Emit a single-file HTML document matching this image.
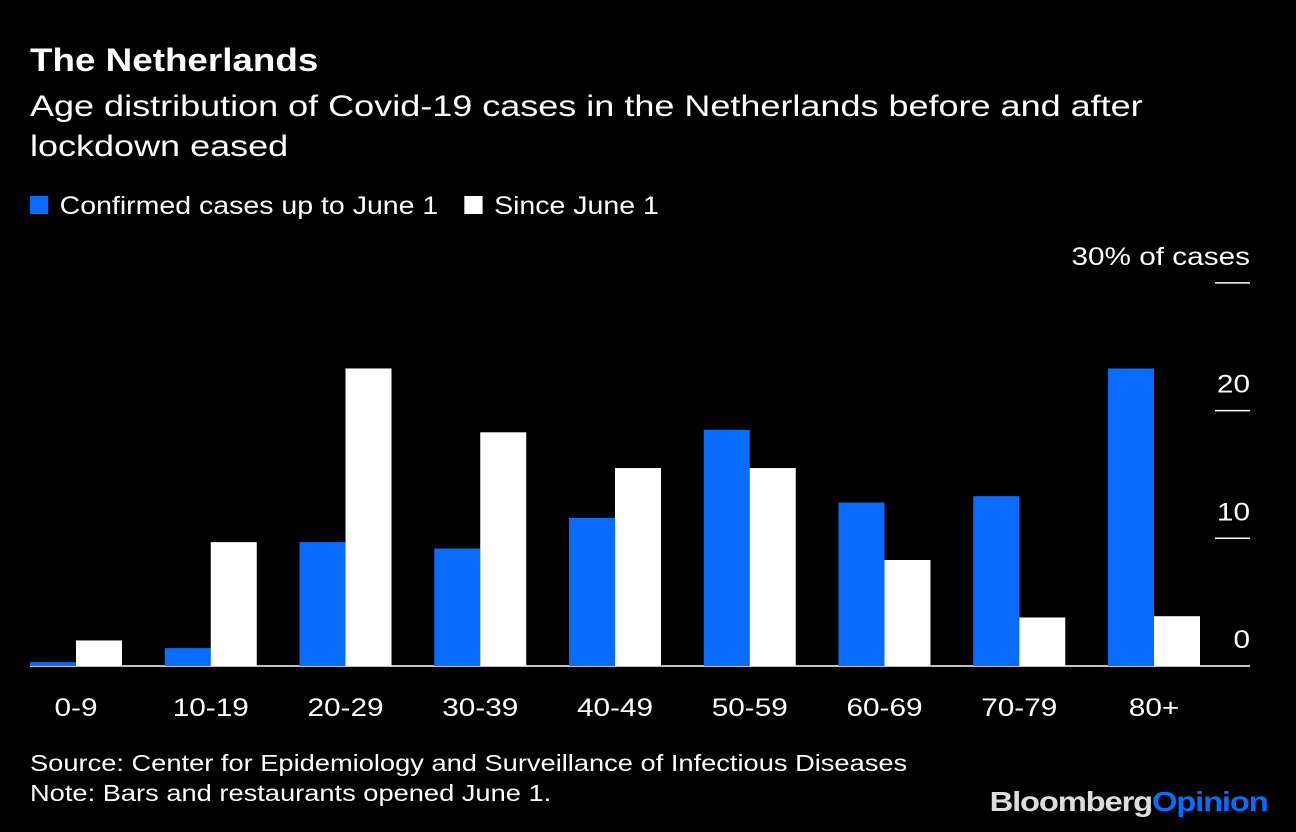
<!DOCTYPE html>
<html><head><meta charset="utf-8"><style>
body{margin:0;background:#000;width:1296px;height:832px;overflow:hidden;font-family:"Liberation Sans",sans-serif;color:#fff}
.t{position:absolute;left:30px;white-space:nowrap;transform-origin:0 0}
</style></head><body>
<div class="t" style="top:42px;font-size:32px;font-weight:bold;transform:scaleX(1.15)">The Netherlands</div>
<div class="t" style="top:87px;font-size:30px;line-height:40px;transform:scaleX(1.2)">Age distribution of Covid-19 cases in the Netherlands before and after<br>lockdown eased</div>
<div class="t" style="top:192px;font-size:25px;transform:scaleX(1.14)">
<span><span style="display:inline-block;width:16px;height:18px;background:#0a6cff;margin-right:10px"></span>Confirmed cases up to June 1</span>
<span style="margin-left:16px"><span style="display:inline-block;width:16px;height:18px;background:#fff;margin-right:10px"></span>Since June 1</span>
</div>
<svg id="c" width="1296" height="832" style="position:absolute;left:0;top:0" font-family="Liberation Sans, sans-serif"></svg>
<div class="t" style="top:748px;font-size:23px;line-height:30px;transform:scaleX(1.185)">Source: Center for Epidemiology and Surveillance of Infectious Diseases<br>Note: Bars and restaurants opened June 1.</div>
<div style="position:absolute;right:28px;top:786px;font-size:28px;font-weight:bold;letter-spacing:-1px;transform:scaleX(1.17);transform-origin:100% 0"><span style="color:#ddd">Bloomberg</span><span style="color:#0a6cff">Opinion</span></div>
<script>
const categories=["0-9","10-19","20-29","30-39","40-49","50-59","60-69","70-79","80+"];
const beforeVals=[0.3,1.4,9.7,9.2,11.6,18.5,12.8,13.3,23.3];
const afterVals=[2.0,9.7,23.3,18.3,15.5,15.5,8.3,3.8,3.9];
const ticks=[0,10,20,30];
const tickLabels=["0","10","20","30% of cases"];
const svg=document.getElementById('c');
const NS='http://www.w3.org/2000/svg';
const y=v=>666-v*12.77;
const xc=i=>76+i*134.75;
function mk(t,a){const e=document.createElementNS(NS,t);for(const k in a)e.setAttribute(k,a[k]);svg.appendChild(e);return e;}
ticks.forEach((v,i)=>{
 const l=mk('line',{x1:i==0?30:1215,x2:1250,y1:y(v),y2:y(v),stroke:'#fff','stroke-width':1.5});
 
 
 const t=mk('text',{x:0,y:0,transform:'translate(1250,'+(y(v)-18)+') scale(1.19,1)','text-anchor':'end','font-size':25,fill:'#fff'});
 t.textContent=tickLabels[i];
 
 
});
categories.forEach((c,i)=>{
 const b=mk('rect',{x:xc(i)-46,y:y(beforeVals[i]),width:46,height:666-y(beforeVals[i]),fill:'#0a6cff'});
 
 
 const w=mk('rect',{x:xc(i),y:y(afterVals[i]),width:46,height:666-y(afterVals[i]),fill:'#fff'});
 
 
 const t=mk('text',{x:0,y:0,transform:'translate('+xc(i)+',716) scale(1.19,1)','text-anchor':'middle','font-size':25,fill:'#fff'});
 t.textContent=c;
 
 
});
</script>
</body></html>
